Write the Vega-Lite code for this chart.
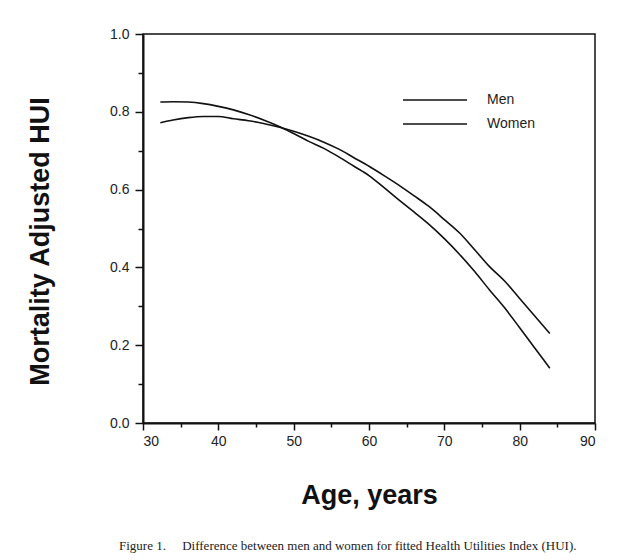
{
  "$schema": "https://vega.github.io/schema/vega-lite/v6.json",
  "width": 452,
  "height": 389,
  "autosize": "none",
  "padding": {"left": 143, "top": 34, "right": 42, "bottom": 137},
  "background": "white",
  "config": {
    "view": {"stroke": "#111", "strokeWidth": 1.5},
    "axis": {"labelFont": "Liberation Sans", "labelFontSize": 14, "labelColor": "#222", "domainColor": "#111", "domainWidth": 2, "tickColor": "#111", "tickWidth": 1.5, "grid": false, "titleFont": "Liberation Sans", "titleFontWeight": "bold", "titleColor": "#111"}
  },
  "title": {
    "text": "Figure 1.\u00a0\u00a0\u00a0\u00a0 Difference between men and women for fitted Health Utilities Index (HUI).",
    "orient": "bottom",
    "anchor": "start",
    "frame": "group",
    "dx": -24,
    "offset": 32,
    "font": "Liberation Serif",
    "fontSize": 13,
    "fontWeight": "normal",
    "color": "#222"
  },
  "data": {
    "values": [
      {"sex": "Men", "age": 32.3, "hui": 0.825},
      {"sex": "Men", "age": 34, "hui": 0.826},
      {"sex": "Men", "age": 36, "hui": 0.825},
      {"sex": "Men", "age": 38, "hui": 0.821},
      {"sex": "Men", "age": 40, "hui": 0.814},
      {"sex": "Men", "age": 42, "hui": 0.805},
      {"sex": "Men", "age": 44, "hui": 0.793},
      {"sex": "Men", "age": 46, "hui": 0.779},
      {"sex": "Men", "age": 48, "hui": 0.763},
      {"sex": "Men", "age": 50, "hui": 0.744},
      {"sex": "Men", "age": 52, "hui": 0.724},
      {"sex": "Men", "age": 54, "hui": 0.706},
      {"sex": "Men", "age": 56, "hui": 0.684},
      {"sex": "Men", "age": 58, "hui": 0.660},
      {"sex": "Men", "age": 60, "hui": 0.636},
      {"sex": "Men", "age": 62, "hui": 0.605},
      {"sex": "Men", "age": 64, "hui": 0.573},
      {"sex": "Men", "age": 66, "hui": 0.542},
      {"sex": "Men", "age": 68, "hui": 0.510},
      {"sex": "Men", "age": 70, "hui": 0.474},
      {"sex": "Men", "age": 72, "hui": 0.434},
      {"sex": "Men", "age": 74, "hui": 0.390},
      {"sex": "Men", "age": 76, "hui": 0.342},
      {"sex": "Men", "age": 78, "hui": 0.296},
      {"sex": "Men", "age": 80, "hui": 0.245},
      {"sex": "Men", "age": 82, "hui": 0.193},
      {"sex": "Men", "age": 84, "hui": 0.141},
      {"sex": "Women", "age": 32.3, "hui": 0.772},
      {"sex": "Women", "age": 34, "hui": 0.779},
      {"sex": "Women", "age": 36, "hui": 0.785},
      {"sex": "Women", "age": 38, "hui": 0.788},
      {"sex": "Women", "age": 40, "hui": 0.788},
      {"sex": "Women", "age": 42, "hui": 0.782},
      {"sex": "Women", "age": 44, "hui": 0.777},
      {"sex": "Women", "age": 46, "hui": 0.770},
      {"sex": "Women", "age": 48, "hui": 0.761},
      {"sex": "Women", "age": 50, "hui": 0.750},
      {"sex": "Women", "age": 52, "hui": 0.737},
      {"sex": "Women", "age": 54, "hui": 0.722},
      {"sex": "Women", "age": 56, "hui": 0.704},
      {"sex": "Women", "age": 58, "hui": 0.682},
      {"sex": "Women", "age": 60, "hui": 0.660},
      {"sex": "Women", "age": 62, "hui": 0.636},
      {"sex": "Women", "age": 64, "hui": 0.611},
      {"sex": "Women", "age": 66, "hui": 0.584},
      {"sex": "Women", "age": 68, "hui": 0.556},
      {"sex": "Women", "age": 70, "hui": 0.523},
      {"sex": "Women", "age": 72, "hui": 0.489},
      {"sex": "Women", "age": 74, "hui": 0.446},
      {"sex": "Women", "age": 76, "hui": 0.402},
      {"sex": "Women", "age": 78, "hui": 0.365},
      {"sex": "Women", "age": 80, "hui": 0.320},
      {"sex": "Women", "age": 82, "hui": 0.275},
      {"sex": "Women", "age": 84, "hui": 0.230}
    ]
  },
  "mark": {"type": "line", "strokeWidth": 1.6, "interpolate": "monotone"},
  "encoding": {
    "x": {
      "field": "age", "type": "quantitative",
      "scale": {"domain": [30, 90], "nice": false, "zero": false},
      "axis": {
        "title": "Age, years",
        "titleFontSize": 27,
        "values": [30, 35, 40, 45, 50, 55, 60, 65, 70, 75, 80, 85, 90],
        "labelExpr": "datum.value % 10 === 0 ? datum.label : ''",
        "tickSize": {"condition": {"test": "datum.value % 10 === 0", "value": 7}, "value": 4},
        "labelPadding": 4,
        "titlePadding": 34
      }
    },
    "y": {
      "field": "hui", "type": "quantitative",
      "scale": {"domain": [0, 1], "nice": false},
      "axis": {
        "title": "Mortality Adjusted HUI",
        "titleFontSize": 27,
        "titleY": 207,
        "values": [0, 0.1, 0.2, 0.3, 0.4, 0.5, 0.6, 0.7, 0.8, 0.9, 1.0],
        "format": ".1f",
        "labelExpr": "round(datum.value * 10) % 2 === 0 ? datum.label : ''",
        "tickSize": {"condition": {"test": "round(datum.value * 10) % 2 === 0", "value": 8}, "value": 5},
        "labelPadding": 6,
        "titlePadding": 55
      }
    },
    "color": {
      "field": "sex", "type": "nominal",
      "scale": {"domain": ["Men", "Women"], "range": ["#111", "#111"]},
      "legend": {
        "title": null,
        "orient": "none",
        "legendX": 283,
        "legendY": 57,
        "symbolType": "M-4,0H4",
        "symbolSize": 256,
        "symbolStrokeWidth": 1.6,
        "symbolStrokeColor": "#111",
        "symbolFillColor": "transparent",
        "labelFont": "Liberation Sans",
        "labelFontSize": 14,
        "labelColor": "#222",
        "labelOffset": 43,
        "rowPadding": 8,
        "padding": 0
      }
    }
  }
}
